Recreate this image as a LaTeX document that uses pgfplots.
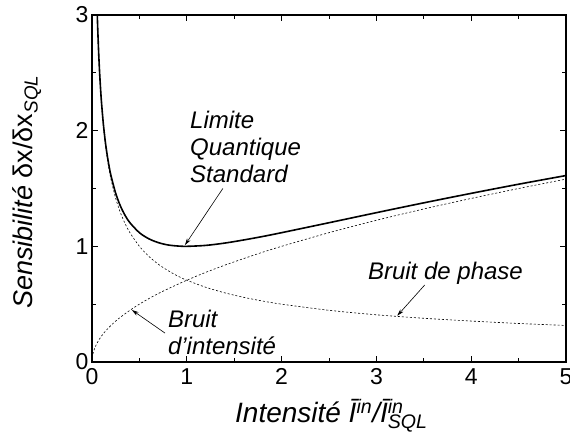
\documentclass[border=0pt]{standalone}
\usepackage{pgfplots}
\pgfplotsset{compat=1.18}
\usepackage{fontspec}
\setmainfont{Liberation Sans}
\usetikzlibrary{arrows.meta}

% total noise, phase noise, intensity noise
\pgfplotstableread{
x      y
0.0557 3.001
0.06   2.892
0.07   2.679
0.08   2.508
0.09   2.367
0.10   2.247
0.12   2.056
0.14   1.908
0.16   1.790
0.18   1.693
0.20   1.612
0.25   1.458
0.30   1.348
0.35   1.266
0.40   1.204
0.50   1.118
0.60   1.065
0.70   1.032
0.80   1.012
0.90   1.003
1.00   1.000
1.20   1.008
1.40   1.028
1.60   1.055
1.80   1.085
2.00   1.118
2.50   1.204
3.00   1.291
3.50   1.376
4.00   1.458
4.50   1.537
5.00   1.612
}\total

\pgfplotstableread{
x      y
0.0557 2.996
0.06   2.887
0.07   2.673
0.08   2.500
0.09   2.357
0.10   2.236
0.12   2.041
0.14   1.890
0.16   1.768
0.18   1.667
0.20   1.581
0.25   1.414
0.30   1.291
0.35   1.195
0.40   1.118
0.50   1.000
0.60   0.913
0.70   0.845
0.80   0.791
0.90   0.745
1.00   0.707
1.20   0.646
1.40   0.598
1.60   0.559
1.80   0.527
2.00   0.500
2.50   0.447
3.00   0.408
3.50   0.378
4.00   0.354
4.50   0.333
5.00   0.316
}\phase

\pgfplotstableread{
x      y
0.00   0.000
0.005  0.050
0.01   0.071
0.02   0.100
0.04   0.141
0.06   0.173
0.08   0.200
0.10   0.224
0.14   0.265
0.20   0.316
0.25   0.354
0.30   0.387
0.40   0.447
0.50   0.500
0.60   0.548
0.70   0.592
0.80   0.632
1.00   0.707
1.20   0.775
1.40   0.837
1.60   0.894
1.80   0.949
2.00   1.000
2.50   1.118
3.00   1.225
3.50   1.323
4.00   1.414
4.50   1.500
5.00   1.581
}\intens

\begin{document}
\begin{tikzpicture}
\begin{axis}[
  name=ax,
  scale only axis,
  width=474pt, height=347pt,
  xmin=0, xmax=5, ymin=0, ymax=3,
  xtick={0,1,2,3,4,5}, ytick={0,1,2,3},
  minor x tick num=1, minor y tick num=1,
  tick align=inside,
  major tick length=6pt, minor tick length=4pt,
  axis line style={line width=1.2pt},
  every tick/.style={black, line width=0.8pt},
  tick label style={font=\fontsize{23}{26}\selectfont},
  xticklabel style={yshift=-3pt},
  /pgf/number format/assume math mode=true,
  xlabel={\textit{Intensité Ī\textsuperscript{in}/Ī\rlap{\textsuperscript{in}}\textsubscript{SQL}}},
  ylabel={\textit{Sensibilité} δx/δx\textsubscript{\textit{SQL}}},
  xlabel style={font=\fontsize{28}{32}\selectfont,
    at={(axis description cs:0.505,0)}, anchor=base, yshift=-61pt},
  ylabel style={font=\fontsize{27}{30}\selectfont,
    at={(axis description cs:-0.1245,0.49)}, anchor=base},
  clip=true,
]
\addplot[black, line width=1.6pt, smooth] table {\total};
\addplot[black, line width=0.6pt, dash pattern=on 2pt off 2pt, smooth] table {\phase};
\addplot[black, line width=0.6pt, dash pattern=on 2pt off 2pt, smooth] table {\intens};

\node[anchor=north west, inner sep=0pt, align=left,
      font=\fontsize{24}{27}\selectfont\itshape] at (axis cs:1.034,2.17)
  {Limite\\Quantique\\Standard};
\draw[-{Stealth[length=7pt,width=4pt]}, line width=0.6pt] (axis cs:1.38,1.50) -- (axis cs:0.98,1.01);

\node[anchor=base west, inner sep=0pt,
      font=\fontsize{24}{27}\selectfont\itshape] at (axis cs:2.91,0.709)
  {Bruit de phase};
\draw[-{Stealth[length=7pt,width=4pt]}, line width=0.6pt] (axis cs:3.51,0.666) -- (axis cs:3.22,0.40);

\node[anchor=north west, inner sep=0pt, align=left,
      font=\fontsize{24}{27}\selectfont\itshape] at (axis cs:0.80,0.45)
  {Bruit\\d'intensité};
\draw[-{Stealth[length=7pt,width=4pt]}, line width=0.6pt] (axis cs:0.77,0.25) -- (axis cs:0.42,0.45);
\end{axis}
\pgfresetboundingbox
\path ([shift={(-92pt,-81pt)}]ax.south west) rectangle ([shift={(4pt,15pt)}]ax.north east);
\end{tikzpicture}
\end{document}
